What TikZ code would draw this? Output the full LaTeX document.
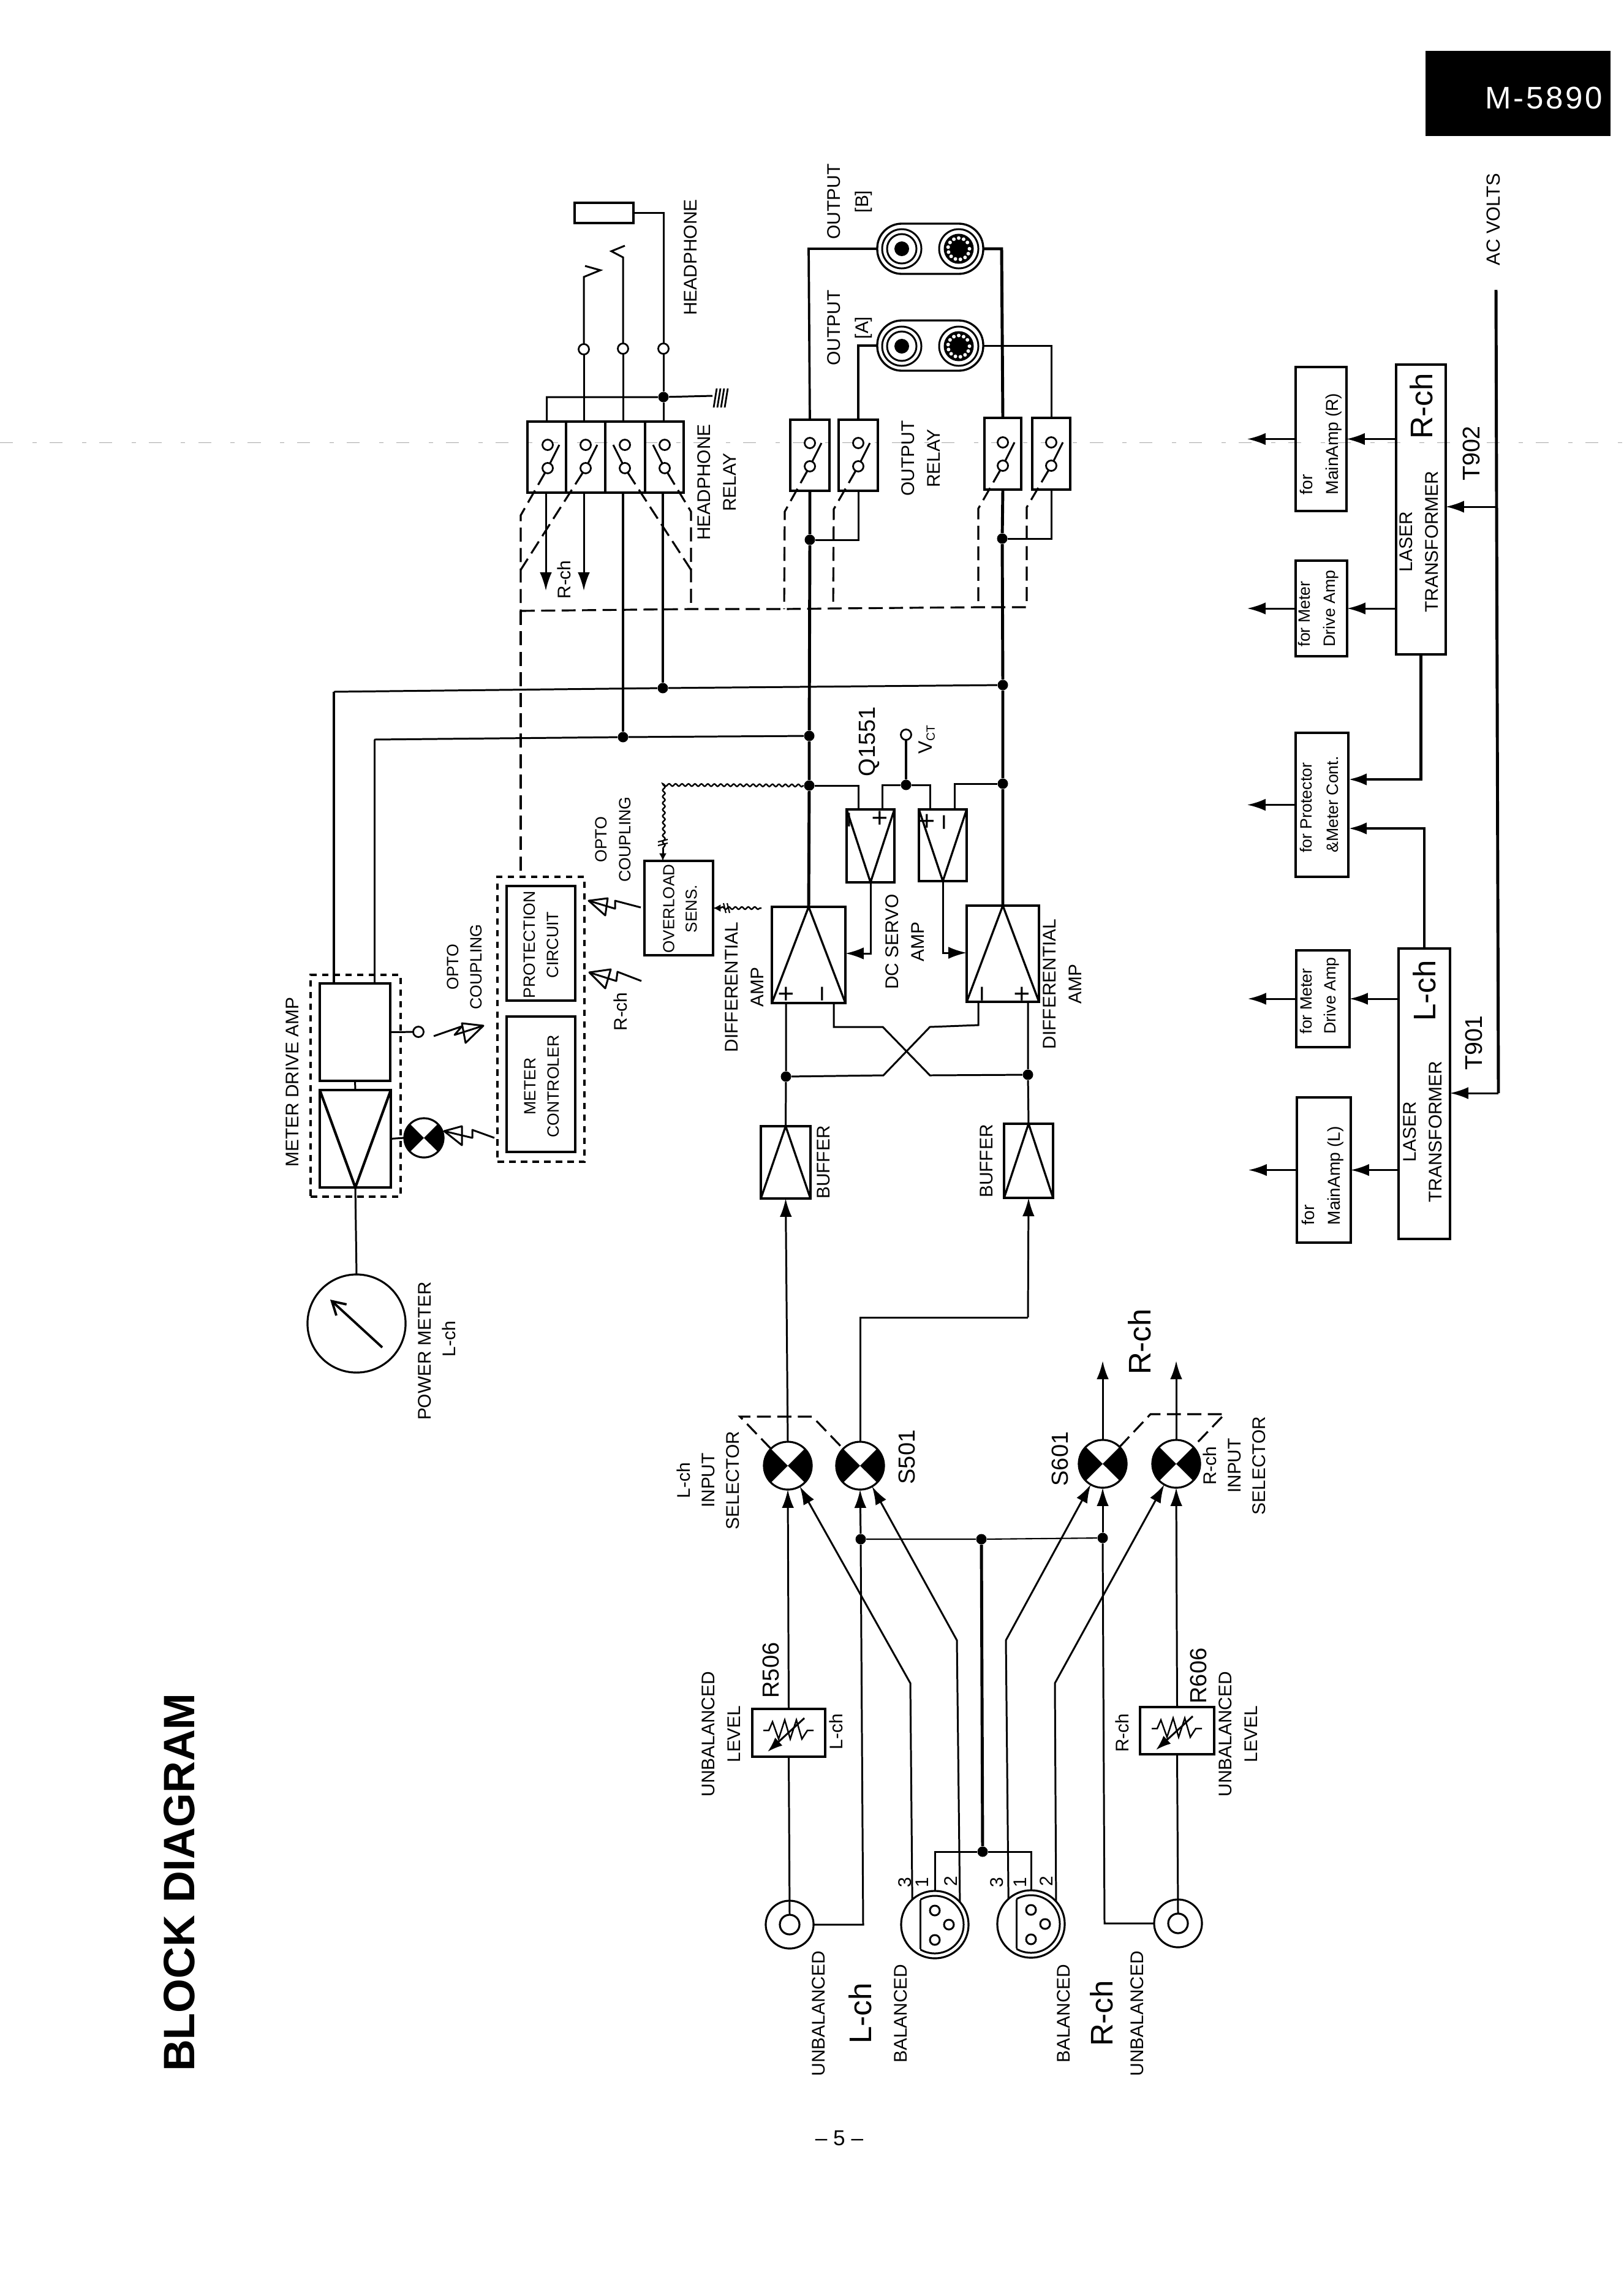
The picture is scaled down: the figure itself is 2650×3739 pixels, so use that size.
\documentclass[tikz,border=0pt]{standalone}
\usepackage{fontspec}
\setmainfont{Liberation Sans}
\usetikzlibrary{arrows.meta,fit,decorations.pathmorphing}
\newcommand{\fs}[2]{\fontsize{#1}{#2}\selectfont}
\tikzset{
 wire/.style={line width=0.85pt,line join=miter},
 thw/.style={line width=1.4pt},
 arr/.style={-{Latex[length=8.5pt,width=5.6pt]}},
 ctl/.style={line width=0.9pt,dash pattern=on 6.5pt off 3pt},
 dbox/.style={line width=1.2pt,dash pattern=on 3pt off 2.4pt},
 bw/.style={line width=0.95pt},
 dotj/.style={circle,fill=black,inner sep=0pt,minimum size=0.17cm},
 term/.style={circle,draw,fill=white,line width=0.8pt,inner sep=0pt,outer sep=0pt,minimum size=0.17cm},
 lbl/.style={rotate=90,align=center,inner sep=0pt,font=\fs{8.5}{11.8}},
 lblb/.style={rotate=90,align=center,inner sep=0pt,font=\fs{10.8}{13}},
 lblc/.style={rotate=90,align=center,inner sep=0pt,font=\fs{14.5}{16}},
 lbls/.style={rotate=90,align=center,inner sep=0pt,font=\fs{7.6}{10.8}},
 lblf/.style={rotate=90,align=left,inner sep=0pt,anchor=west,font=\fs{8}{12}},
 wavy/.style={line width=0.7pt,decorate,decoration={snake,amplitude=0.55pt,segment length=3pt}},
 opsign/.style={rotate=90,inner sep=0pt,font=\fs{13}{13}},
}
\newcommand{\mkbox}[6][]{\path (#3,#4) coordinate (#2-a) (#5,#6) coordinate (#2-b);
 \node[fit=(#2-a)(#2-b),inner sep=0pt,outer sep=0pt,draw,bw,#1] (#2) {};}
\newcommand{\mksel}[4]{\node[circle,draw,line width=0.9pt,minimum size=#4*0.02cm,inner sep=0pt,outer sep=0pt] (#1) at (#2,#3) {};
 \fill (#1.center) -- (#1.45) arc[start angle=45,end angle=-45,radius=#4*0.01cm] -- cycle;
 \fill (#1.center) -- (#1.135) arc[start angle=135,end angle=225,radius=#4*0.01cm] -- cycle;}
\newcommand{\mkcirc}[5][]{\node[circle,draw,line width=0.9pt,minimum size=#5*0.02cm,inner sep=0pt,outer sep=0pt,#1] (#2) at (#3,#4) {};}
% name, x, yupper, ylower, direction
\newcommand{\mksw}[5]{\node[term] (#1t) at (#2,#3) {}; \node[term] (#1b) at (#2,#4) {};
 \draw[wire] (#1b) -- ({#2+#5*19},#3);}
\newcommand{\mkbolt}[6]{\draw[wire,line join=round] (#1) -- (#2) -- (#3) -- (#4); \draw[wire,line join=round] (#4) -- (#5) -- (#6) -- cycle;}
\newcommand{\mkvar}[2]{\begin{scope}[shift={(#1,#2)}]
 \draw[line width=0.7pt] (-41,-4) -- (-32,-4) -- (-26,-18) -- (-16,10) -- (-6,-21) -- (3,10) -- (13,-21) -- (22,10) -- (31,-4) -- (41,-4);
 \draw[wire,-{Latex[length=7pt,width=5pt]}] (26,-24) -- (-34,31);
 \end{scope}}
\newcommand{\mkxlr}[3]{\mkcirc{#1}{#2}{#3}{55}
 \begin{scope}[shift={(#2,#3)}]
 \begin{scope}\clip (-24,-60) rectangle (60,60); \draw[wire] (0,0) circle[radius=0.47cm]; \end{scope}
 \draw[wire] (-24,-40) -- (-24,40);
 \draw[wire] (0,-23) circle[radius=0.08cm] (23,0) circle[radius=0.08cm] (0,25) circle[radius=0.08cm];
 \end{scope}}
\newcommand{\mkrcaA}[2]{\begin{scope}[shift={(#1,#2)}]
 \draw[wire] (0,0) circle[radius=0.32cm] (0,0) circle[radius=0.24cm];
 \fill (0,0) circle[radius=0.12cm];\end{scope}}
\newcommand{\mkrcaB}[2]{\begin{scope}[shift={(#1,#2)}]
 \draw[wire] (0,0) circle[radius=0.32cm];
 \fill (0,0) circle[radius=0.245cm];
 \foreach \a in {0,27,...,340}{\fill[white] (\a:17.5) circle[radius=0.03cm];}
 \end{scope}}
\begin{document}
\begin{tikzpicture}[x=0.01cm,y=-0.01cm]
\useasboundingbox (0,0) rectangle (2650,3739);
\fill[white] (0,0) rectangle (2650,3739);
% faint fold line of the scan
\draw[black!35,line width=0.2pt,dash pattern=on 6pt off 9pt on 2pt off 6pt] (0,722) -- (2650,722);
% title, tab, page number
\node[rotate=90,inner sep=0pt,font=\fs{20.4}{21}\bfseries] (title) at (293,3072) {BLOCK DIAGRAM};
\mkbox[fill=black]{tab}{2329}{85}{2627}{220}
\node[text=white,inner sep=0pt,font=\fs{14.5}{14}\addfontfeature{LetterSpace=7}] (tabt) at (2520,160) {M-5890};
\node[inner sep=0pt,font=\fs{10}{10}] (pg) at (1370,3490) {– 5 –};
%%%%% input section
\mkcirc{jkL}{1289}{3141}{39} \mkcirc{jkLi}{1289}{3141}{16}
\mkcirc{jkR}{1923}{3139}{39} \mkcirc{jkRi}{1923}{3139}{16}
\mkxlr{xlL}{1526}{3141} \mkxlr{xlR}{1683}{3140}
\mkbox{lvlL}{1228}{2789}{1347}{2867} \mkvar{1287}{2828}
\mkbox{lvlR}{1861}{2786}{1982}{2863} \mkvar{1921}{2825}
\mksel{selLa}{1286}{2392}{39} \mksel{selLb}{1404}{2392}{39}
\mksel{selRa}{1800}{2389}{39} \mksel{selRb}{1920}{2389}{39}
\node[dotj] (j1) at (1405,2512) {}; \node[dotj] (j2) at (1602,2512) {}; \node[dotj] (j3) at (1800,2510) {};
\node[dotj] (j4) at (1604,3022) {};
\draw[wire,arr] (lvlL.north) -- (selLa.south);
\draw[wire] (jkLi.north) -- (lvlL.south);
\draw[wire] (jkRi.north) -- (lvlR.south);
\draw[wire,arr] (lvlR.north) -- (selRb.south);
\draw[wire] (jkL.east) -- (1409,3141) -- (j1.south);
\draw[wire,arr] (j1) -- (selLb.south);
\draw[wire] (jkR.west) -- (1803,3139) -- (j3.south);
\draw[wire,arr] (j3) -- (selRa.south);
\draw[line width=0.6pt] (j1) -- (j2) -- (j3);
\draw[thw] (j2) -- (j4);
\draw[wire] (xlL.north) |- (j4) -| (xlR.north);
\draw[wire,arr] (xlL.132) -- (1486,2747) -- (selLa.-60);
\draw[wire,arr] (xlL.42) -- (1562,2677) -- (selLb.-60);
\draw[wire,arr] (xlR.132) -- (1642,2677) -- (selRa.-120);
\draw[wire,arr] (xlR.42) -- (1722,2747) -- (selRb.-120);
\coordinate (outRa) at (1800,2221); \coordinate (outRb) at (1920,2221);
\draw[wire,arr] (selRa.north) -- (outRa);
\draw[wire,arr] (selRb.north) -- (outRb);
\draw[ctl] (selLa.135) -- (1208,2312) -- (1326,2312) -- (selLb.135);
\draw[ctl] (selRa.45) -- (1878,2308) -- (1999,2308) -- (selRb.45);
% labels input
\node[lbl,font=\fs{8.5}{11.4}] (t1) at (1156,2416) {L-ch\\INPUT\\SELECTOR};
\node[lbl,font=\fs{8.5}{11.4}] (t2) at (2015,2392) {R-ch\\INPUT\\SELECTOR};
\node[lblb] (t3) at (1480,2378) {S501}; \node[lblb] (t4) at (1730,2381) {S601};
\node[lblc] (t5) at (1860,2190) {R-ch};
\node[lbl] (t6) at (1177,2830) {UNBALANCED\\LEVEL};
\node[lbl] (t7) at (2021,2830) {UNBALANCED\\LEVEL};
\node[lblb] (t8) at (1258,2726) {R506}; \node[lblb] (t9) at (1956,2735) {R606};
\node[lbl] (t10) at (1365,2826) {L-ch}; \node[lbl] (t11) at (1832,2828) {R-ch};
\node[lbl] (t12) at (1336,3286) {UNBALANCED};
\node[lblc] (t13) at (1404,3286) {L-ch};
\node[lbl] (t14) at (1470,3286) {BALANCED};
\node[lbl] (t15) at (1736,3286) {BALANCED};
\node[lblc] (t16) at (1798,3286) {R-ch};
\node[lbl] (t17) at (1856,3286) {UNBALANCED};
\node[lbl] (n1) at (1477,3072) {3}; \node[lbl] (n2) at (1505,3072) {1}; \node[lbl] (n3) at (1552,3070) {2};
\node[lbl] (n4) at (1627,3072) {3}; \node[lbl] (n5) at (1665,3072) {1}; \node[lbl] (n6) at (1708,3070) {2};
%%%%% amplifiers
\mkbox{bufL}{1242}{1838}{1323}{1956} \mkbox{bufR}{1639}{1834}{1719}{1955}
\mkbox{daL}{1260}{1480}{1380}{1637} \mkbox{daR}{1578}{1478}{1696}{1635}
\mkbox{srL}{1382}{1321}{1460}{1440} \mkbox{srR}{1500}{1321}{1578}{1438}
\foreach \n in {bufL,bufR,daL,daR}{\draw[bw] (\n.south west) -- (\n.north) -- (\n.south east);}
\foreach \n in {srL,srR}{\draw[bw] (\n.north west) -- (\n.south) -- (\n.north east);}
\node[dotj] (jBL) at (1283,1757) {}; \node[dotj] (jBR) at (1678,1754) {};
\coordinate (cR) at (1678,2150);
\draw[wire,arr] (selLa.north) -- (bufL.south);
\draw[wire] (selLb.north) |- (cR);
\draw[wire,arr] (cR) -- (bufR.south);
\draw[wire] (bufL.north) -- (jBL) -- (jBL |- daL.south);
\draw[wire] (bufR.north) -- (jBR) -- (jBR |- daR.south);
\draw[wire] (1361,1637) -- (1361,1676) -- (1441,1676) -- (1518,1755) -- (jBR);
\draw[wire] (1597,1635) -- (1597,1673) -- (1518,1676) -- (1442,1755) -- (jBL);
\draw[wire,arr] (srL.south) |- (daL.east |- 0,1556);
\draw[wire,arr] (srR.south) |- (daR.west |- 0,1555);
\node[opsign] (pL) at (1285,1622) {+}; \node[opsign] (mL) at (1349,1622) {−};
\node[opsign] (mR) at (1610,1622) {−}; \node[opsign] (pR) at (1670,1622) {+};
\node[opsign] (mS) at (1393,1338) {−}; \node[opsign] (pS) at (1438,1335) {+};
\node[opsign] (pT) at (1515,1340) {+}; \node[opsign] (mT) at (1548,1342) {−};
\node[dotj] (jm1) at (1321,1282) {}; \node[dotj] (jm2) at (1321,1201) {};
\node[dotj] (jo1) at (1322,881) {};
\node[dotj] (jr1) at (1637,1279) {}; \node[dotj] (jr2) at (1637,1118) {}; \node[dotj] (jo2) at (1636,879) {};
\node[dotj] (jv) at (1479,1281) {}; \node[term] (tmV) at (1479,1199) {};
\draw[thw] (jv) -- (tmV);
\draw[wire] (1401,1321) |- (jm1);
\draw[wire] (1440,1321) |- (jv) -| (1518,1321);
\draw[wire] (1558,1321) |- (jr1);
\node[lbl] (t20) at (1344,1897) {BUFFER}; \node[lbl] (t21) at (1610,1895) {BUFFER};
\node[lbl] (t22) at (1215,1611) {DIFFERENTIAL\\AMP};
\node[lbl] (t23) at (1734,1606) {DIFFERENTIAL\\AMP};
\node[lbl] (t24) at (1477,1537) {DC SERVO\\AMP};
\node[lblb] (t25) at (1419,1210) {Q1551};
\node[rotate=90,inner sep=0pt,font=\fs{9}{9}] (t26) at (1513,1207) {V\raisebox{-0.25ex}{\fs{5.5}{6}CT}};
%%%%% relays
\mkbox{rlH1}{861}{688}{924}{804} \mkbox{rlH2}{924}{688}{988}{804}
\mkbox{rlH3}{988}{688}{1053}{804} \mkbox{rlH4}{1053}{688}{1116}{804}
\mkbox[line width=1.2pt]{rlA}{1290}{685}{1354}{801} \mkbox[line width=1.2pt]{rlB}{1369}{685}{1433}{801}
\mkbox{rlC}{1607}{682}{1667}{799} \mkbox{rlD}{1685}{682}{1747}{799}
\mksw{swH1}{894}{726}{764}{1} \mksw{swH2}{956}{726}{764}{1}
\mksw{swH3}{1020}{726}{764}{-1} \mksw{swH4}{1085}{726}{764}{-1}
\mksw{swA}{1322}{723}{761}{1} \mksw{swB}{1401}{723}{761}{1}
\mksw{swC}{1637}{722}{760}{1} \mksw{swD}{1716}{722}{760}{1}
\node[dotj] (jh3) at (1017,1203) {}; \node[dotj] (jh4) at (1082,1123) {};
\node[dotj] (jg) at (1083,648) {};
\node[term] (tmH2) at (953,570) {}; \node[term] (tmH3) at (1017,569) {}; \node[term] (tmH4) at (1083,569) {};
\mkbox{hp}{938}{331}{1034}{364}
\draw[wire] (rlH1.north) |- (jg) -- (1163,646);
\foreach \d in {0,6,12,18}{\draw[line width=0.8pt] ({1170+\d},634) -- ({1165+\d},665);}
\draw[wire] (tmH2 |- rlH2.north) -- (tmH2.south);
\draw[wire] (tmH2.north) -- (953,452) -- (980,441) -- (955,434);
\draw[wire] (tmH3 |- rlH3.north) -- (tmH3.south);
\draw[wire] (tmH3.north) -- (1017,420) -- (998,410) -- (1020,401);
\draw[wire] (tmH4 |- rlH4.north) -- (jg) -- (tmH4.south);
\draw[wire] (tmH4.north) |- (hp.east);
\draw[wire,arr] (891,804) -- (891,964);
\draw[wire,arr] (953,804) -- (953,964);
\draw[thw] (jh3 |- rlH3.south) -- (jh3);
\draw[thw] (jh4 |- rlH4.south) -- (jh4);
% outputs
\mkbox[rounded corners=0.4cm]{ojB}{1432}{365}{1605}{447}
\mkbox[rounded corners=0.4cm]{ojA}{1432}{523}{1605}{605}
\mkrcaA{1472}{406} \mkrcaB{1565}{406} \mkrcaA{1472}{565} \mkrcaB{1565}{565}
\draw[line width=1.05pt] (rlA.north) -- (1320,406) -- (ojB.west);
\draw[line width=1.05pt] (rlB.north) -- (1401,564) -- (ojA.west);
\draw[thw] (rlC.north) -- (1635,406) -- (ojB.east);
\draw[wire] (ojA.east) -- (1716,564) -- (rlD.north);
\draw[thw] (daL.north) -- (jm1) -- (jm2) -- (jo1) -- (rlA.south);
\draw[thw] (daR.north) -- (jr1) -- (jr2) -- (jo2) -- (rlC.south);
\draw[wire] (rlB.south) |- (jo1);
\draw[wire] (rlD.south) |- (jo2);
% long signal lines
\coordinate (ct1) at (545,1129); \coordinate (ct2) at (611,1207);
\draw[wire] (ct1) -- (jh4) -- (jr2);
\draw[wire] (ct2) -- (jh3) -- (jm2);
% control dashes
\coordinate (d0) at (850,997); \coordinate (d1) at (1128,994); \coordinate (d2) at (1280,994);
\coordinate (d3) at (1360,993); \coordinate (d4) at (1597,991); \coordinate (d5) at (1676,991);
\mkbox[dbox]{pcOut}{812}{1431}{954}{1896}
\draw[ctl] (d0) -- (d1) -- (d2) -- (d3) -- (d4) -- (d5);
\draw[ctl] (d0) -- (d0 |- pcOut.north);
\draw[ctl] (swH1b) -- (850,841) -- (d0);
\draw[ctl] (swH2b) -- (850,930);
\draw[ctl] (swH3b) -- (1128,930);
\draw[ctl] (swH4b) -- (1128,835) -- (d1);
\draw[ctl] (swAb) -- (1281,835) -- (d2);
\draw[ctl] (swBb) -- (1361,831) -- (d3);
\draw[ctl] (swCb) -- (1597,830) -- (d4);
\draw[ctl] (swDb) -- (1676,828) -- (d5);
\node[lbl] (t30) at (1127,420) {HEADPHONE};
\node[lbl] (t31) at (1170,787) {HEADPHONE\\RELAY};
\node[lbl,font=\fs{8.5}{13}] (t32) at (1387,329) {OUTPUT\\{[B]}};
\node[lbl,font=\fs{8.5}{13}] (t33) at (1387,535) {OUTPUT\\{[A]}};
\node[lbl] (t34) at (1503,748) {OUTPUT\\RELAY};
\node[lbl] (t35) at (921,946) {R-ch};
%%%%% protection and meter
\mkbox{pc}{827}{1446}{939}{1633} \mkbox{mc}{827}{1659}{939}{1880}
\node[lbls] (t40) at (883,1542) {PROTECTION\\CIRCUIT};
\node[lbls] (t41) at (884,1773) {METER\\CONTROLER};
\mkbox{ov}{1052}{1405}{1164}{1559}
\node[lbls,font=\fs{7.4}{10.5}] (t42) at (1110,1483) {OVERLOAD\\SENS.};
\draw[wavy] (jm1) -- (1082,1281) -- (1082,1385);
\draw[wire,-{Latex[length=3.5pt,width=3.5pt]}] (1082,1385) -- (ov.north -| 1082,0);
\foreach \d in {0,6}{\draw[line width=0.6pt] (1074,{1374+\d}) -- (1090,{1370+\d});}
\coordinate (ovw) at (1243,1482);
\draw[wavy] (1176,1482) -- (ovw);
\draw[wire,-{Latex[length=3.5pt,width=3.5pt]}] (1176,1482) -- (ov.east);
\foreach \d in {0,6}{\draw[line width=0.6pt] ({1181+\d},1474) -- ({1185+\d},1490);}
\mkbox[dbox]{mdOut}{507}{1591}{654}{1953}
\mkbox[line width=1.2pt]{mdA}{522}{1605}{637}{1764}
\mkbox[line width=1.2pt]{mdB}{522}{1779}{638}{1938}
\draw[line width=1.2pt] (mdB.north west) -- (mdB.south) -- (mdB.north east);
\draw[wire] (mdA.south) -- (mdB.north);
\draw[thw] (ct1) -- (ct1 |- mdA.north);
\draw[wire] (ct2) -- (ct2 |- mdA.north);
\node[term] (tmM) at (683,1684) {};
\draw[wire] (mdA.east) -- (tmM);
\mksel{lamp}{692}{1857}{32}
\draw[wire] (mdB.east) -- (lamp.west);
\mkcirc{pm}{582}{2160}{80}
\draw[wire] (mdB.south) -- (pm.north);
\draw[line width=1.1pt,-{Straight Barb[length=6pt,width=7pt]}] (624,2199) -- (539,2121);
\mkbolt{708,1691}{754,1675}{742,1689}{789,1674}{754,1670}{760,1702}
\mkbolt{807,1857}{771,1844}{771,1857}{725,1846}{754,1838}{754,1869}
\mkbolt{1046,1481}{1004,1470}{1004,1483}{961,1470}{992,1466}{988,1494}
\mkbolt{1047,1601}{1008,1586}{1006,1601}{962,1587}{997,1582}{988,1613}
\node[lbl] (t50) at (477,1766) {METER DRIVE AMP};
\node[lbl,font=\fs{7.6}{10.8}] (t51) at (758,1578) {OPTO\\COUPLING};
\node[lbl,font=\fs{7.6}{11.2}] (t52) at (1001,1370) {OPTO\\COUPLING};
\node[lbl] (t53) at (1013,1651) {R-ch};
\node[lbl] (t54) at (693,2205) {POWER METER};
\node[lbl] (t55) at (733,2185) {L-ch};
%%%%% power supply
\mkbox[line width=1.2pt]{lzR}{2279}{595}{2360}{1068} \mkbox[line width=1.2pt]{lzL}{2283}{1548}{2367}{2022}
\mkbox{fa1}{2115}{599}{2198}{834} \mkbox{fa2}{2115}{915}{2199}{1071}
\mkbox{fa3}{2115}{1196}{2201}{1431}
\mkbox{fa4}{2116}{1551}{2203}{1709} \mkbox{fa5}{2117}{1791}{2205}{2028}
\foreach \n in {fa1,fa2,fa3,fa4,fa5}{\draw[wire,arr] (\n.west) -- ++(-79,0);}
\foreach \n/\m in {fa1/lzR,fa2/lzR,fa4/lzL,fa5/lzL}{\draw[wire,arr] (\n.east -| \m.west) -- (\n.east);}
\coordinate (p3a) at (2201,1272); \coordinate (p3b) at (2201,1352);
\draw[thw,arr] (lzR.south) |- (p3a);
\draw[thw,arr] (lzL.north) |- (p3b);
\coordinate (acT) at (2442,473); \coordinate (acB) at (2446,1784); \coordinate (acM) at (2443,827);
\draw[thw] (acT) -- (acM) -- (acB);
\draw[wire,arr] (acB) -- (acB -| lzL.east);
\draw[wire,arr] (acM) -- (acM -| lzR.east);
\node[lbl,font=\fs{8.8}{10}] (t60) at (2438,358) {AC VOLTS};
\node[lblb,font=\fs{11.2}{13}] (t61) at (2402,740) {T902};
\node[lblb,font=\fs{11.2}{13}] (t62) at (2406,1702) {T901};
\node[lblc] (t63) at (2320,663) {R-ch}; \node[lblc] (t64) at (2325,1617) {L-ch};
\node[lbl] (t65) at (2316,884) {LASER\\TRANSFORMER};
\node[lbl] (t66) at (2322,1847) {LASER\\TRANSFORMER};
\node[lblf] (t67) at (2156,808) {for\\MainAmp (R)};
\node[lblf,anchor=center,font=\fs{7.6}{11.8}] (t68) at (2152,993) {for Meter\\Drive Amp};
\node[lblf,anchor=center,font=\fs{7.6}{12.2}] (t69) at (2153,1313) {for Protector\\\&Meter Cont.};
\node[lblf,anchor=center,font=\fs{7.6}{11.2}] (t70) at (2154,1625) {for Meter\\Drive Amp};
\node[lblf] (t71) at (2159,2000) {for\\MainAmp (L)};
\end{tikzpicture}
\end{document}
